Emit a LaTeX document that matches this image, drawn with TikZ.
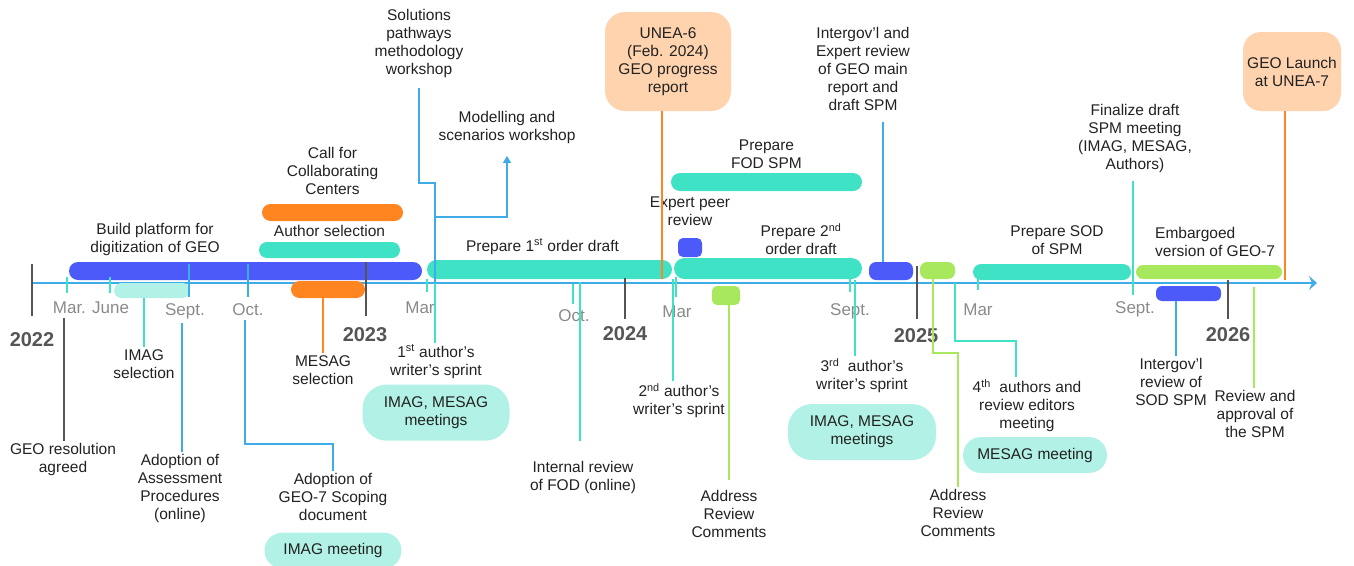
\documentclass[tikz,border=0pt]{standalone}
\usepackage{fontspec}
\setmainfont{Liberation Sans}
\usetikzlibrary{positioning, shapes.misc, arrows.meta}

\definecolor{barblue}{RGB}{76,90,250}
\definecolor{barteal}{RGB}{64,226,198}
\definecolor{mint}{RGB}{178,242,230}
\definecolor{barorange}{RGB}{255,133,33}
\definecolor{bargreen}{RGB}{168,232,92}
\definecolor{peach}{RGB}{255,211,174}
\definecolor{skyblue}{RGB}{62,172,230}
\definecolor{tickgray}{RGB}{85,85,85}
\definecolor{monthgray}{RGB}{138,138,138}
\definecolor{ink}{RGB}{34,34,34}

\begin{document}
\begin{tikzpicture}[x=1pt, y=-1pt, font=\fontsize{15.5}{18}\selectfont, text=ink,
    bar/.style={rounded rectangle, inner sep=0pt, minimum height=18pt},
    block/.style={rectangle, rounded corners=5pt, inner sep=0pt, minimum height=18pt},
    box/.style={fill=peach, rounded corners=18pt, align=center, inner sep=0pt},
    meet/.style={fill=mint, rounded corners=24pt, align=center, inner sep=0pt},
    lbl/.style={align=center, inner sep=2pt},
    month/.style={text=monthgray, anchor=base, font=\fontsize{17}{20}\selectfont},
    year/.style={text=tickgray, anchor=base, font=\fontsize{20}{24}\selectfont\bfseries},
    conn/.style={line width=1.2pt},
    tick/.style={line width=1.2pt}]
    \useasboundingbox (0,0) rectangle (1354,565);

    % time axis
    \draw [line width=1.5pt, skyblue, -{Stealth[length=8pt, width=14pt, inset=3pt]}] (32,283) -- (1317,283);

    % bars
    \node (platform) [bar, fill=barblue, minimum width=353pt] at (245.5,271) {};
    \node (imagsel) [bar, fill=mint, minimum width=76pt, minimum height=15pt] at (152,290.5) {};
    \node (callcc) [bar, fill=barorange, minimum width=141pt, minimum height=17pt] at (332.5,212.5) {};
    \node (authsel) [bar, fill=barteal, minimum width=141pt, minimum height=16pt] at (329.5,250) {};
    \node (mesagsel) [bar, fill=barorange, minimum width=74pt, minimum height=17pt] at (328,289.5) {};
    \node (draft1) [bar, fill=barteal, minimum width=245pt, minimum height=19pt] at (549.5,269.5) {};
    \node (peer) [block, fill=barblue, minimum width=24pt, minimum height=19pt] at (690,247.5) {};
    \node (fodspm) [bar, fill=barteal, minimum width=191pt] at (766.5,182) {};
    \node (draft2) [bar, fill=barteal, minimum width=188pt, minimum height=21pt] at (768,268.5) {};
    \node (address1) [block, fill=bargreen, minimum width=28pt, minimum height=19pt] at (726,295.5) {};
    \node (review) [block, fill=barblue, rounded corners=7pt, minimum width=44pt] at (891,271) {};
    \node (address2) [block, fill=bargreen, rounded corners=7pt, minimum width=35pt, minimum height=17pt] at (937.5,270.5) {};
    \node (sodspm) [bar, fill=barteal, minimum width=158pt, minimum height=16pt] at (1052,272) {};
    \node (embargo) [bar, fill=bargreen, minimum width=146pt, minimum height=14pt] at (1209,272) {};
    \node (sodreview) [block, fill=barblue, rounded corners=6pt, minimum width=65pt, minimum height=15pt] at (1188.5,293.5) {};

    % boxes
    \node (unea6) [box, minimum width=126pt, minimum height=99pt, rounded corners=20pt] at (668,61.5) {UNEA-6\\(Feb. 2024)\\GEO progress\\report};
    \node (launch) [box, minimum width=98pt, minimum height=79pt] at (1292,71.5) {GEO Launch\\at UNEA-7};

    % labels above the axis
    \node (lplatform) [lbl] at (155,239.5) {Build platform for\\digitization of GEO};
    \node (lcallcc) [lbl, above=7pt of callcc] {Call for\\Collaborating\\Centers};
    \node (lauthsel) [lbl, above=3pt of authsel] {Author selection};
    \node (lsolutions) [lbl] at (419,43.5) {Solutions\\pathways\\methodology\\workshop};
    \node (lmodel) [lbl] at (507,127.5) {Modelling and\\scenarios workshop};
    \node (ldraft1) [lbl, anchor=base] at (542.5,251) {Prepare 1\textsuperscript{st} order draft};
    \node (lpeer) [lbl, above=10pt of peer] {Expert peer\\review};
    \node (lfodspm) [lbl, above=2pt of fodspm] {Prepare\\FOD SPM};
    \node (ldraft2) [lbl] at (801,239.5) {Prepare 2\textsuperscript{nd}\\order draft};
    \node (lintergov) [lbl] at (863,68.5) {Intergov’l and\\Expert review\\of GEO main\\report and\\draft SPM};
    \node (lfinal) [lbl] at (1135,138.5) {Finalize draft\\SPM meeting\\(IMAG, MESAG,\\Authors)};
    \node (lsodspm) [lbl] at (1057,240) {Prepare SOD\\of SPM};
    \node (lembargo) [lbl, align=left, anchor=west] at (1153,242) {Embargoed\\version of GEO-7};

    % labels below the axis
    \node (lresol) [lbl] at (63,459) {GEO resolution\\agreed};
    \node (limagsel) [lbl] at (144,364) {IMAG\\selection};
    \node (ladopt) [lbl] at (180,488) {Adoption of\\Assessment\\Procedures\\(online)};
    \node (lscoping) [lbl] at (333,496.5) {Adoption of\\GEO-7 Scoping\\document};
    \node (imagmeet) [meet, minimum width=137pt, minimum height=36pt, rounded corners=18pt, below=10pt of lscoping] {IMAG meeting};
    \node (lmesagsel) [lbl] at (323,370) {MESAG\\selection};
    \node (lsprint1) [lbl] at (436,361.5) {1\textsuperscript{st} author’s\\writer’s sprint};
    \node (meet1) [meet, minimum width=147pt, minimum height=56pt, below=4pt of lsprint1] {IMAG, MESAG\\meetings};
    \node (linternal) [lbl] at (583,477) {Internal review\\of FOD (online)};
    \node (lsprint2) [lbl] at (679,400.5) {2\textsuperscript{nd} author’s\\writer’s sprint};
    \node (laddr1) [lbl] at (729,513.5) {Address\\Review\\Comments};
    \node (lsprint3) [lbl] at (862,375.5) {3\textsuperscript{rd}\ \ author’s\\writer’s sprint};
    \node (meet3) [meet, minimum width=148pt, minimum height=56pt, below=9pt of lsprint3] {IMAG, MESAG\\meetings};
    \node (laddr2) [lbl] at (958,512.5) {Address\\Review\\Comments};
    \node (lsprint4) [lbl] at (1027,406) {4\textsuperscript{th}\ \ authors and\\review editors\\meeting};
    \node (mesagmeet) [meet, minimum width=144pt, minimum height=36pt, rounded corners=18pt] at (1035,455) {MESAG meeting};
    \node (lsodrev) [lbl] at (1171,381.5) {Intergov’l\\review of\\SOD SPM};
    \node (lapprove) [lbl] at (1255,414) {Review and\\approval of\\the SPM};

    % month and year marks
    \foreach \x/\a/\b in {67/277/293, 110/277/293, 427/279/292, 573/284/304, 676/277/297, 850/277/292, 978/279/290, 1133/275/295}
        \draw [tick, barteal] (\x,\a) -- (\x,\b);
    \foreach \x in {189, 248}
        \draw [tick, skyblue] (\x,264) -- (\x,297);
    \foreach \x/\a/\b in {32/264/316, 366/262/316, 625/278/319, 917/266/319, 1228/280/319}
        \draw [line width=2pt, tickgray] (\x,\a) -- (\x,\b);
    \foreach \x/\y/\m [count=\i] in {91/313/Mar. June, 185/315/Sept., 248/315/Oct., 420/313/Mar, 574/321/Oct., 677/317/Mar, 850/315/Sept., 978/315/Mar, 1135/313/Sept.}
        \node (month\i) [month] at (\x,\y) {\m};
    \foreach \x/\y [count=\i] in {32/346, 365/341, 625/340, 916/342, 1228/341}
        \node (year\i) [year] at (\x,\y) {\the\numexpr2021+\i\relax};

    % connector ends
    \coordinate (resol) at (64,318);
    \coordinate (assess) at (182,323);
    \coordinate (scoping) at (245,320);
    \coordinate (bend) at (435,183);
    \coordinate (branch) at (435,217);
    \coordinate (sprint1) at (435,283);
    \coordinate (internal) at (580,282);
    \coordinate (unea) at (662,279);
    \coordinate (sprint2) at (673,279);
    \coordinate (sprint3) at (855,280);
    \coordinate (intergov) at (883,262);
    \coordinate (addr2) at (933,279);
    \coordinate (meet4) at (955,283);
    \coordinate (meet4end) at (1016,377);
    \coordinate (finalize) at (1133,283);
    \coordinate (sodrevend) at (1176,301);
    \coordinate (approve) at (1254,287);
    \coordinate (launchend) at (1285,280);

    % Create edge connections
    \draw [conn, tickgray] (resol) -- (resol |- lresol.north);
    \draw [conn, barteal] (limagsel |- imagsel.south) -- (limagsel.north);
    \draw [conn, skyblue] (assess) -- (assess |- ladopt.north);
    \draw [conn, skyblue] (scoping) -- ++(0,124) -| (lscoping.north);
    \draw [conn, barorange] (lmesagsel |- mesagsel.south) -- (lmesagsel.north);
    \draw [conn, skyblue, shorten <=8pt] (lsolutions.south) |- (bend) -- (sprint1);
    \draw [conn, skyblue, -{Triangle[length=7pt, width=8pt]}] (branch) -| ([yshift=-10pt]lmodel.south);
    \draw [conn, barteal] (sprint1) -- (sprint1 |- lsprint1.north);
    \draw [conn, barteal, shorten >=18pt] (internal) -- (internal |- linternal.north);
    \draw [conn, barorange] (unea6.south -| unea) -- (unea);
    \draw [conn, barteal] (sprint2) -- (sprint2 |- lsprint2.north);
    \draw [conn, bargreen, shorten >=8pt] (laddr1 |- address1.south) -- (laddr1.north);
    \draw [conn, skyblue, shorten <=10pt] (intergov |- lintergov.south) -- (intergov);
    \draw [conn, barteal] (sprint3) -- (sprint3 |- lsprint3.north);
    \draw [conn, bargreen] (addr2) -- ++(0,74) -| (laddr2.north);
    \draw [conn, barteal] (meet4) -- ++(0,58) -| (meet4end);
    \draw [conn, barteal, shorten <=6pt] (finalize |- lfinal.south) -- (finalize);
    \draw [conn, skyblue] (sodrevend) -- (sodrevend |- lsodrev.north);
    \draw [conn, bargreen] (approve) -- (approve |- lapprove.north);
    \draw [conn, barorange] (launch.south -| launchend) -- (launchend);
\end{tikzpicture}
\end{document}
